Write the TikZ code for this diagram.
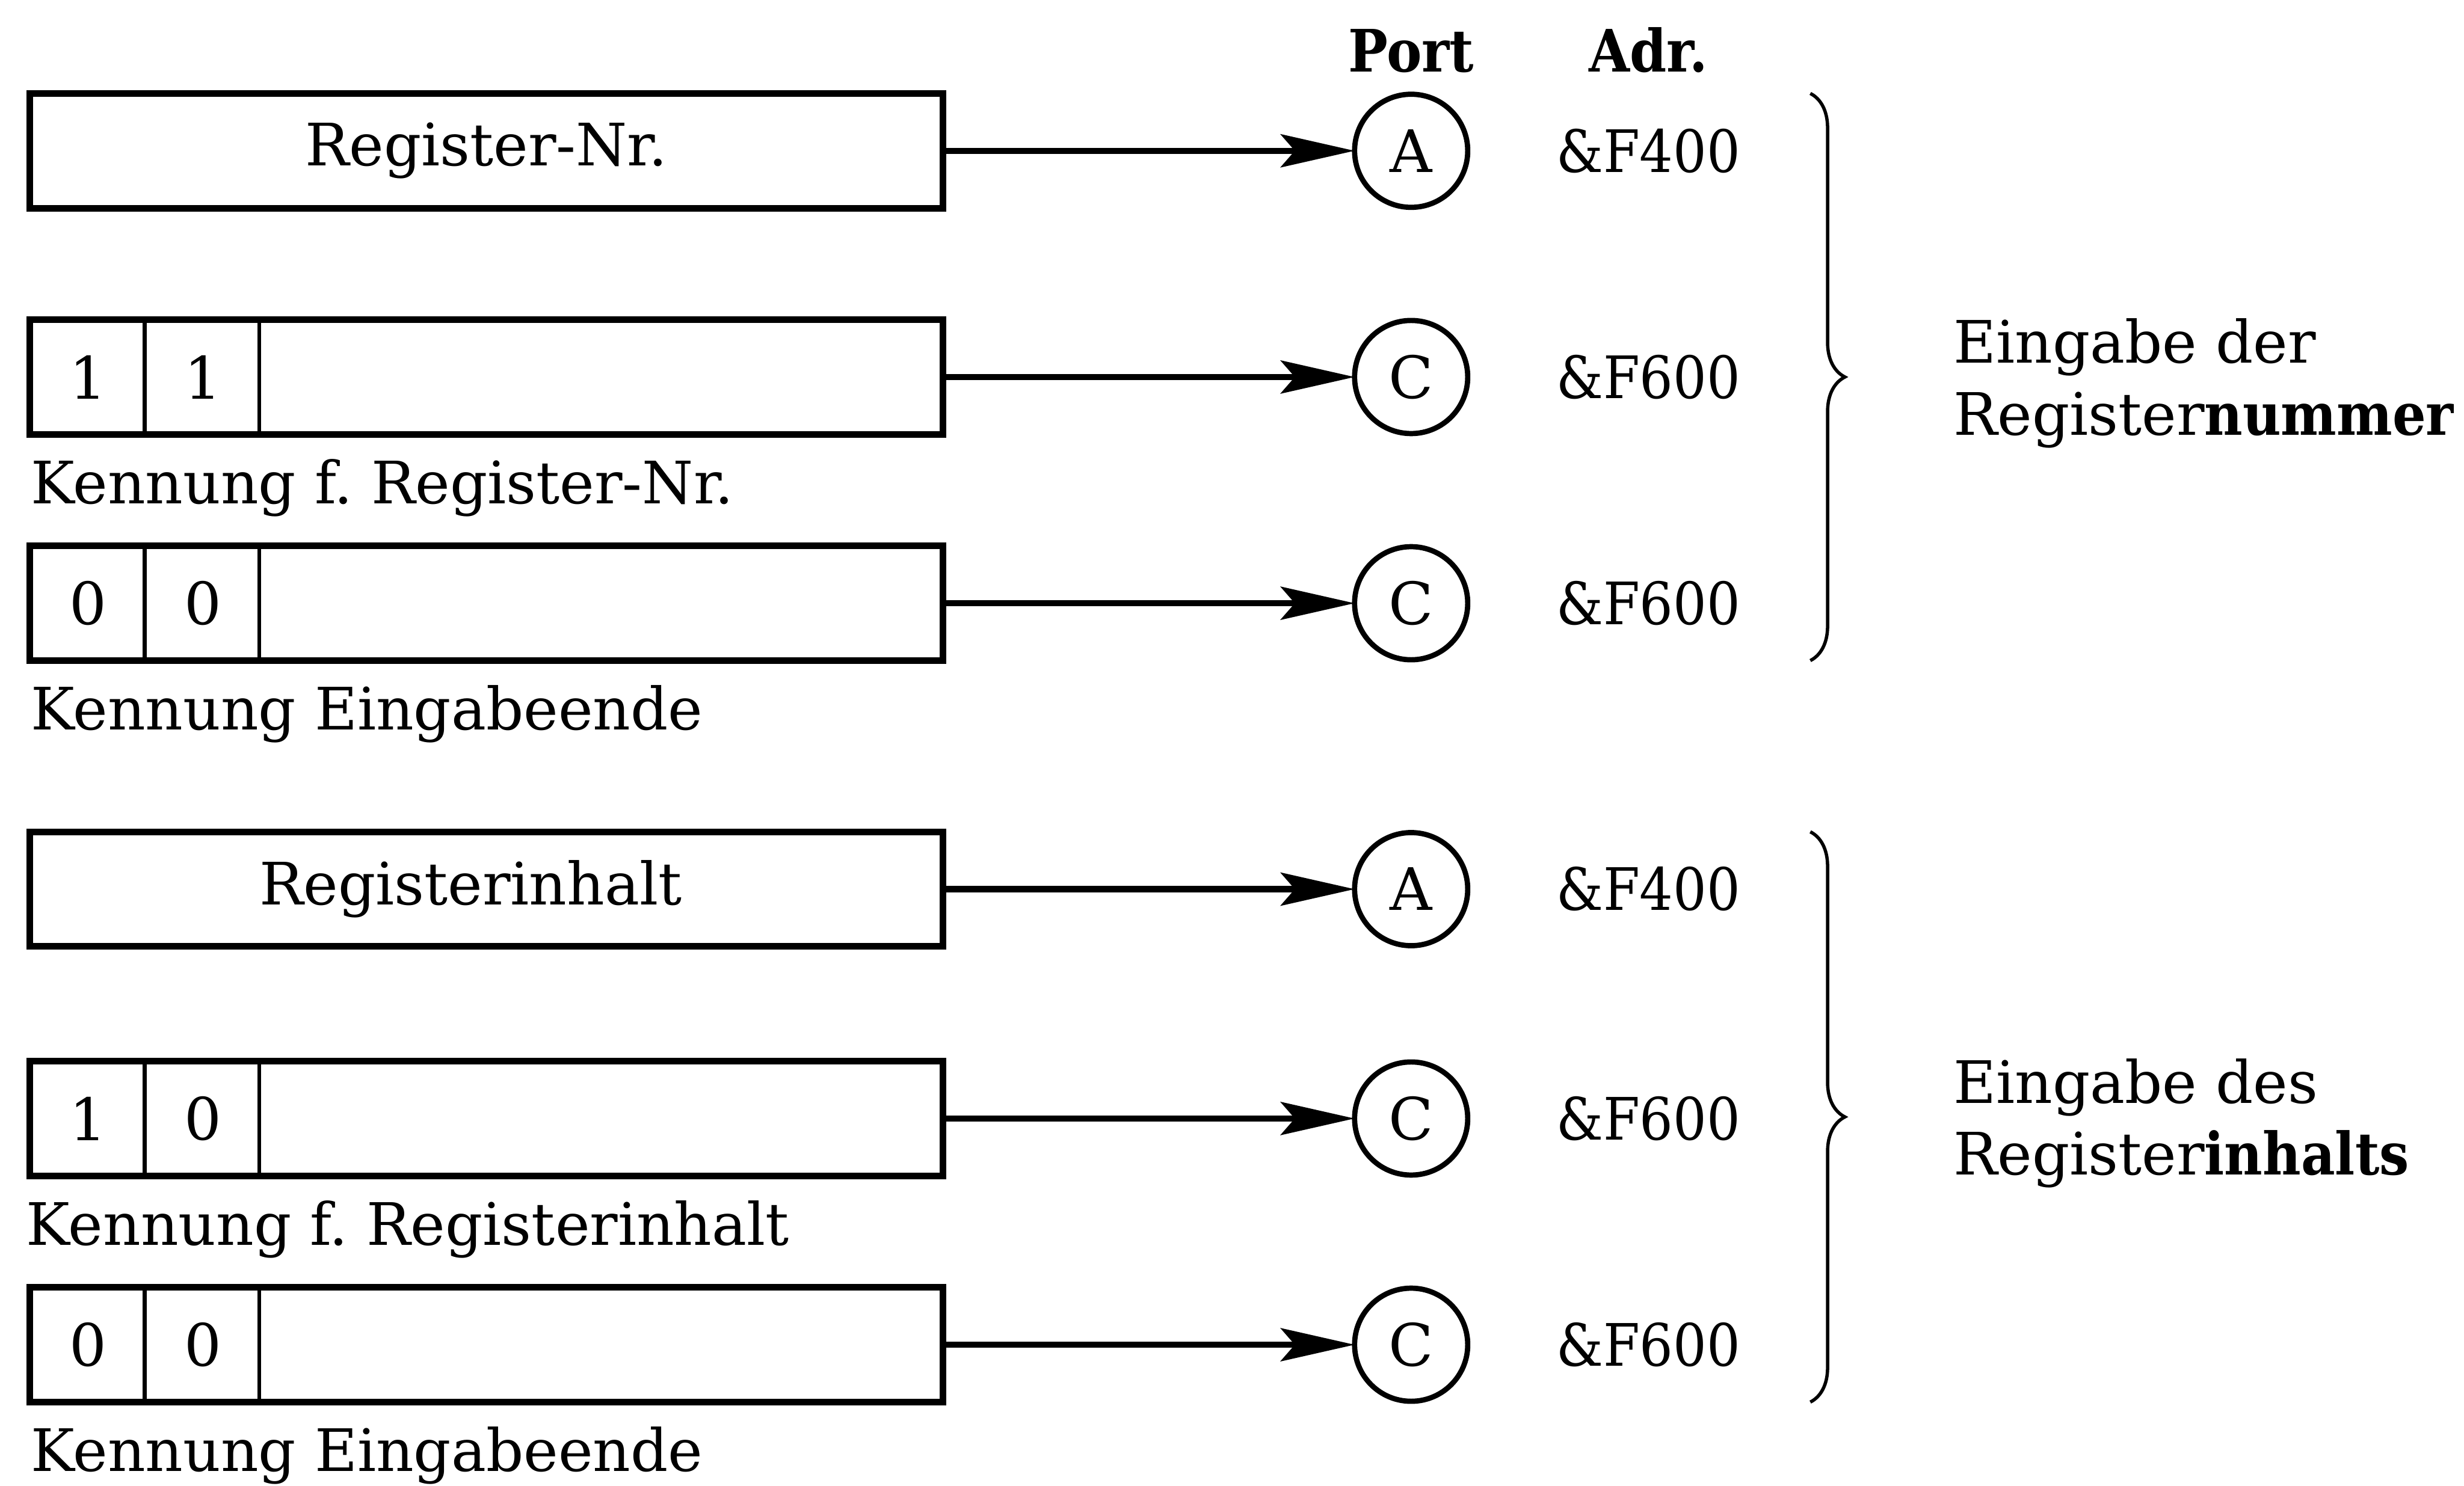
\documentclass[tikz,border=0pt]{standalone}
\usepackage{fontspec}
\setmainfont{DejaVu Serif}
\newfontfamily\condfont{DejaVu Serif Condensed}
\usepackage{tikz}
\usetikzlibrary{arrows.meta, positioning, decorations.pathreplacing}

\begin{document}
\fontsize{10.6}{13}\selectfont\frenchspacing
\begin{tikzpicture}[
    regbox/.style={rectangle, draw, line width=1.2pt, minimum width=5.81cm,
                   minimum height=0.73cm, inner sep=0pt, outer sep=0pt},
    cellline/.style={line width=0.7pt},
    port/.style={circle, draw, line width=0.95pt, minimum size=0.72cm, inner sep=0pt, outer sep=0pt},
    conn/.style={-{Stealth[length=4.7mm, width=2.1mm, inset=0.9mm]}, line width=1.1pt},
    head/.style={font=\condfont\bfseries, inner sep=0pt},
    caption/.style={inner sep=0pt},
    grp/.style={decorate, decoration={brace, amplitude=2.2mm}, line width=0.6pt},
    node distance=0.71cm
]
    \useasboundingbox (0,0) rectangle (15.68,-9.456);

    % register words, top to bottom
    \node[regbox, anchor=north west] (r1) at (0.19,-0.595) {Register-Nr.};
    \node[regbox, below=of r1] (r2) {};
    \node[regbox, below=of r2] (r3) {};
    \node[regbox, below=1.09cm of r3] (r4) {\hspace*{-0.2cm}Registerinhalt};
    \node[regbox, below=0.73cm of r4] (r5) {};
    \node[regbox, below=of r5] (r6) {};

    % two flag bits at the left end
    \foreach \r/\a/\b in {r2/1/1, r3/0/0, r5/1/0, r6/0/0} {
        \draw[cellline] ([xshift=7.3mm]\r.north west) -- ([xshift=7.3mm]\r.south west);
        \draw[cellline] ([xshift=14.6mm]\r.north west) -- ([xshift=14.6mm]\r.south west);
        \node (\r-a) at ([xshift=3.7mm]\r.west) {\a};
        \node (\r-b) at ([xshift=11mm]\r.west) {\b};
    }

    \node[caption, below right=0.15cm and 0cm of r2.south west] (k2) {Kennung f. Register-Nr.};
    \node[caption, below right=0.15cm and 0cm of r3.south west] (k3) {Kennung Eingabeende};
    \node[caption, below right=0.15cm and -0.03cm of r5.south west] (k5) {Kennung f. Registerinhalt};
    \node[caption, below right=0.15cm and 0cm of r6.south west] (k6) {Kennung Eingabeende};

    % ports
    \foreach \i/\p in {1/A, 2/C, 3/C, 4/A, 5/C, 6/C} {
        \node[port, right=2.62cm of r\i] (p\i) {\p};
        \draw[conn] (r\i) -- (p\i);
    }

    \node[head, above=0.13cm of p1] (hport) {Port};
    \node[head, right=0.72cm of hport.base east, anchor=base west] (hadr) {Adr.};

    \foreach \i/\adr in {1/F400, 2/F600, 3/F600, 4/F400, 5/F600, 6/F600}
        \node[font=\condfont] (a\i) at (p\i -| hadr) {\&\adr};

    % grouping braces
    \coordinate (bx) at (11.52,0);
    \draw[grp] (r1.north -| bx) -- node[right=0.9cm, yshift=-0.04cm, align=left, inner sep=0pt] (g1)
        {Eingabe der\\Register{\condfont\bfseries nummer}} (r3.south -| bx);
    \draw[grp] (r4.north -| bx) -- node[right=0.9cm, yshift=-0.04cm, align=left, inner sep=0pt] (g2)
        {Eingabe des\\Register{\condfont\bfseries inhalts}} (r6.south -| bx);

\end{tikzpicture}
\end{document}
